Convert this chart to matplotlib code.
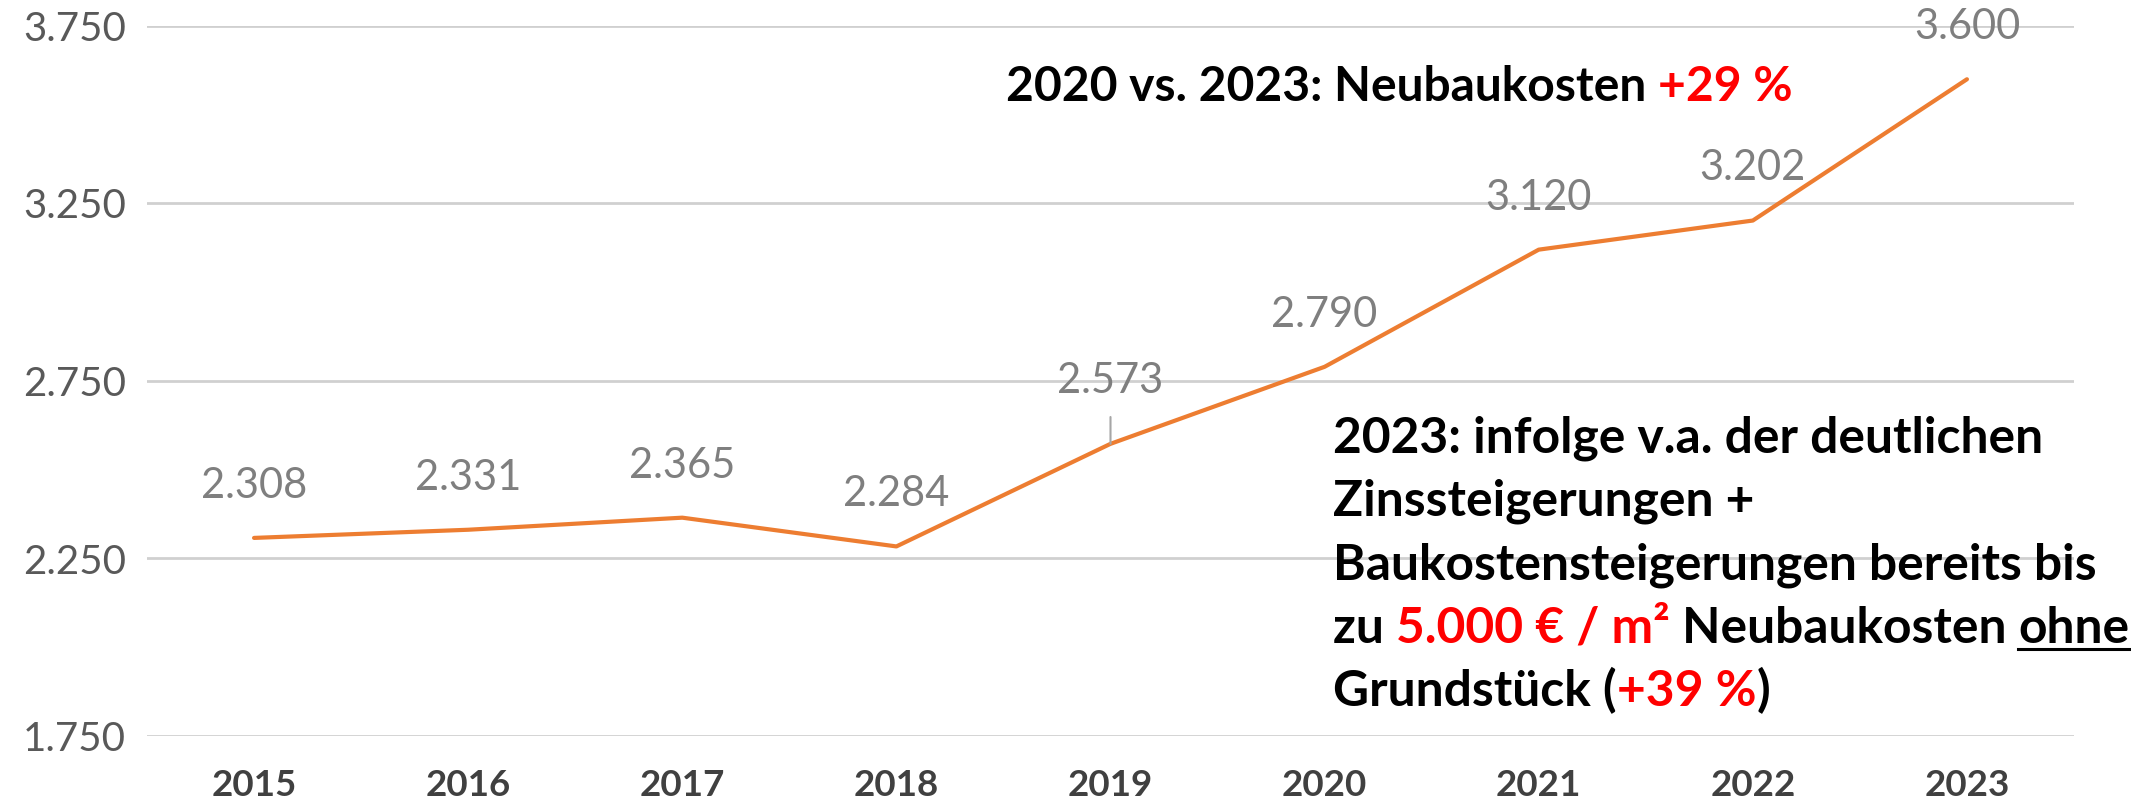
import matplotlib
matplotlib.use('Agg')
from matplotlib import pyplot as plt
from matplotlib.font_manager import FontProperties
from matplotlib.lines import Line2D
import numpy as np

# data
years = ['2015', '2016', '2017', '2018', '2019', '2020', '2021', '2022', '2023']
costs = [2308, 2331, 2365, 2284, 2573, 2790, 3120, 3202, 3600]
value_labels = ['2.308', '2.331', '2.365', '2.284', '2.573', '2.790', '3.120', '3.202', '3.600']
y_ticks = [1750, 2250, 2750, 3250, 3750]
y_tick_labels = ['1.750', '2.250', '2.750', '3.250', '3.750']

RED = '#ff0000'
title_parts = [('2020 vs. 2023: Neubaukosten ', 'black', False), ('+29 %', RED, False)]
note_lines = [
    [('2023: infolge v.a. der deutlichen', 'black', False)],
    [('Zinssteigerungen +', 'black', False)],
    [('Baukostensteigerungen bereits bis', 'black', False)],
    [('zu ', 'black', False), ('5.000 € / m²', RED, False),
     (' Neubaukosten ', 'black', False), ('ohne', 'black', True)],
    [('Grundstück (', 'black', False), ('+39 %', RED, False), (')', 'black', False)],
]

plt.rcParams['font.family'] = ['Lato', 'DejaVu Sans']

W, H = 2131, 805
fig = plt.figure(figsize=(W / 100, H / 100), dpi=100)
ax = fig.add_axes([147 / W, 1 - 736 / H, (2074 - 147) / W, (736 - 26) / H])

x = np.arange(len(years))
ax.plot(x, costs, color='#ED7D31', lw=3, solid_capstyle='round', zorder=3)
ax.set_xlim(-0.5, len(years) - 0.5)
ax.set_ylim(y_ticks[0], y_ticks[-1])
ax.set_yticks(y_ticks, y_tick_labels)
ax.set_xticks(x, years)
ax.yaxis.grid(True, color='#d0d0d0', lw=2)
ax.set_axisbelow(True)
for s in ax.spines.values():
    s.set_visible(False)
ax.tick_params(length=0)
ax.tick_params(axis='y', pad=15, labelsize=29, labelcolor='#595959')
ax.tick_params(axis='x', pad=24, labelsize=26.5, labelcolor='#404040')
for lbl in ax.get_xticklabels():
    lbl.set_fontweight('bold')

# value labels above the points
for i in range(len(years)):
    if years[i] == '2019':
        ax.annotate(value_labels[i], (x[i], costs[i]), xytext=(0, 45),
                    textcoords='offset points', ha='center', va='center',
                    fontsize=30, color='#7f7f7f',
                    arrowprops=dict(arrowstyle='-', color='#a6a6a6', lw=1.5,
                                    shrinkA=10, shrinkB=0))
    else:
        ax.annotate(value_labels[i], (x[i], costs[i]), xytext=(0, 37.5),
                    textcoords='offset points', ha='center', va='center',
                    fontsize=30, color='#7f7f7f')

renderer = fig.canvas.get_renderer()


def text_width(s, prop):
    w, h, d = renderer.get_text_width_height_descent(s, prop, ismath=False)
    return w


def fit_prop(s, target_px):
    p = FontProperties(family=['Lato', 'DejaVu Sans'], weight='bold', size=10)
    p.set_size(10 * target_px / text_width(s, p))
    return p


def draw_rich(x_px, base_px, parts, prop):
    prefix = ''
    ref = text_width('l', prop)
    for s, c, under in parts:
        x0 = x_px + (text_width(prefix + 'l', prop) - ref if prefix else 0)
        fig.text(x0 / W, 1 - base_px / H, s, color=c, fontproperties=prop,
                 ha='left', va='baseline')
        if under:
            w = text_width(s, prop)
            yy = 1 - (base_px + 6) / H
            fig.add_artist(Line2D([x0 / W, (x0 + w) / W], [yy, yy],
                                  color=c, lw=2.2))
        prefix += s


title_prop = fit_prop(''.join(p[0] for p in title_parts), 791)
draw_rich(1006, 101, title_parts, title_prop)

note_prop = fit_prop(note_lines[2][0][0], 767)
for k, line in enumerate(note_lines):
    draw_rich(1333, 452 + 63.5 * k, line, note_prop)

fig.savefig('out.png', dpi=100)
